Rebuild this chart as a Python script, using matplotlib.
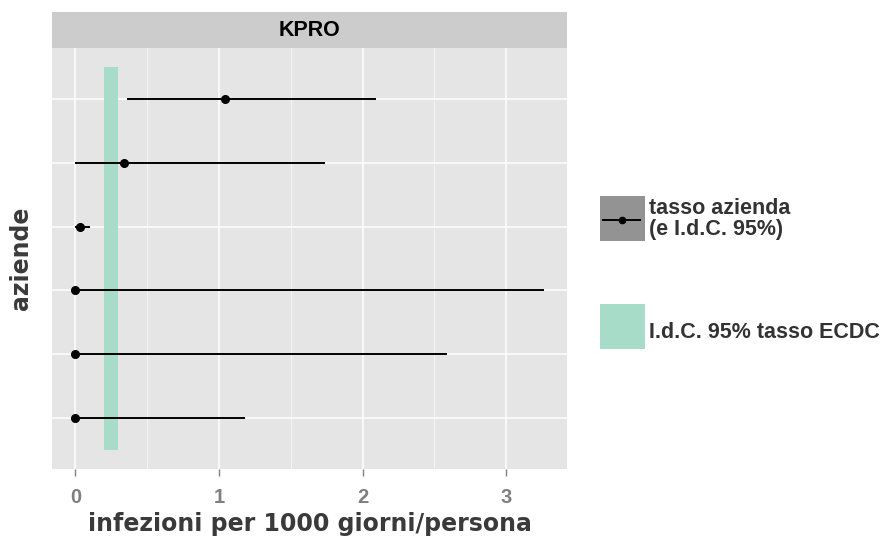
import matplotlib
matplotlib.use('Agg')
import matplotlib.pyplot as plt
from matplotlib.patches import Rectangle
from matplotlib.lines import Line2D
import numpy as np

# rates per 1000 patient-days, top row first
aziende = ['A1', 'A2', 'A3', 'A4', 'A5', 'A6']
tasso = [1.04, 0.34, 0.03, 0.0, 0.0, 0.0]
ic_inf = [0.36, 0.0, 0.0, 0.0, 0.0, 0.0]
ic_sup = [2.09, 1.74, 0.10, 3.26, 2.59, 1.18]

# ECDC 95% confidence band
ecdc_inf = 0.2
ecdc_sup = 0.3

xticks = [0, 1, 2, 3]

W, H = 895, 542
fig = plt.figure(figsize=(W / 100, H / 100), dpi=100)

def fx(px):
    return px / W

def fy(py):
    return 1 - py / H

ax = fig.add_axes([fx(52), fy(469), fx(567) - fx(52), fy(48) - fy(469)])
ax.set_facecolor('#E5E5E5')

y = np.arange(len(aziende), 0, -1)
tasso = np.array(tasso)
err = [tasso - np.array(ic_inf), np.array(ic_sup) - tasso]

ax.add_patch(Rectangle((ecdc_inf, 0.5), ecdc_sup - ecdc_inf, len(aziende),
                       facecolor='#A6DCC8', edgecolor='none', zorder=2))
ax.errorbar(tasso, y, xerr=err, fmt='o', color='black', ms=5.5,
            elinewidth=1.4, capsize=0, zorder=3)

ax.set_xlim(-0.163, 3.423)
ax.set_ylim(0.2, 6.8)
ax.set_xticks(xticks)
ax.set_xticklabels([str(t) for t in xticks])
ax.set_xticks([0.5, 1.5, 2.5], minor=True)
ax.set_yticks(y)
ax.set_yticklabels([])
ax.grid(True, which='major', color='white', linewidth=1.1, zorder=0)
ax.grid(True, which='minor', axis='x', color='#F4F4F4', linewidth=0.8, zorder=0)
ax.set_axisbelow(True)
for s in ax.spines.values():
    s.set_visible(False)
ax.tick_params(axis='x', which='major', length=5, width=1, color='#7F7F7F',
               labelcolor='#7F7F7F', labelsize=14.5, pad=9)
ax.tick_params(axis='x', which='minor', length=0)
ax.tick_params(axis='y', length=0)
for lab in ax.get_xticklabels():
    lab.set_fontweight('bold')
    lab.set_family('Liberation Sans')

ax.set_xlabel('infezioni per 1000 giorni/persona', fontsize=17, fontweight='bold',
              color='#3A3A3A', labelpad=3)
ax.set_ylabel('aziende', fontsize=17, fontweight='bold', color='#3A3A3A')
ax.yaxis.set_label_coords(-0.037, 0.5)

# facet strip
strip = fig.add_axes([fx(52), fy(48), fx(567) - fx(52), fy(12) - fy(48)])
strip.set_facecolor('#CCCCCC')
strip.set_xticks([])
strip.set_yticks([])
for s in strip.spines.values():
    s.set_visible(False)
strip.text(0.5, 0.5, 'KPRO', ha='center', va='center', fontsize=15.5,
           fontweight='bold', family='Liberation Sans', color='black')

# legend
fig.patches.append(Rectangle((fx(600), fy(241)), fx(45), fy(196) - fy(241),
                             transform=fig.transFigure, facecolor='#939393',
                             edgecolor='none'))
fig.lines.append(Line2D([fx(603), fx(640)], [fy(220), fy(220)],
                        transform=fig.transFigure, color='black', lw=1.4))
fig.lines.append(Line2D([fx(622)], [fy(220)], transform=fig.transFigure,
                        color='black', marker='o', ms=4.5))
fig.patches.append(Rectangle((fx(600), fy(349)), fx(45), fy(304) - fy(349),
                             transform=fig.transFigure, facecolor='#A6DCC8',
                             edgecolor='none'))
fig.text(fx(649), fy(219), 'tasso azienda\n(e I.d.C. 95%)', ha='left', va='center',
         fontsize=15.5, fontweight='bold', family='Liberation Sans',
         color='#333333', linespacing=0.95)
fig.text(fx(649), fy(332), 'I.d.C. 95% tasso ECDC', ha='left', va='center',
         fontsize=15.5, fontweight='bold', family='Liberation Sans', color='#333333')

fig.savefig('out.png', dpi=100)
